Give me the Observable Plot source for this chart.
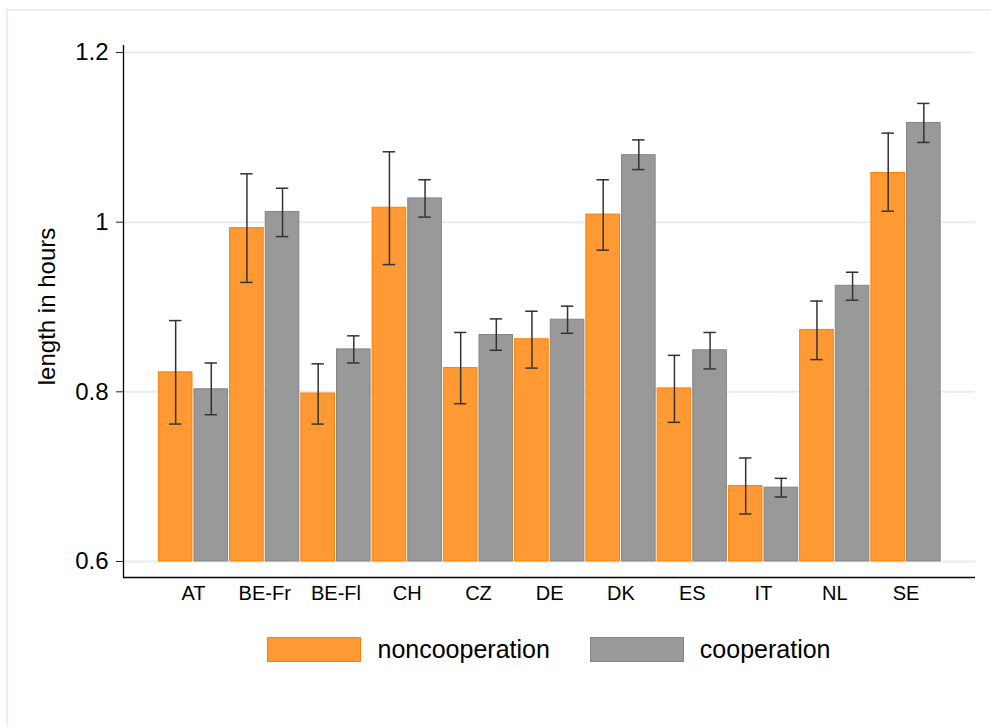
<!DOCTYPE html>
<html>
<head>
<meta charset="utf-8">
<script src="https://cdn.jsdelivr.net/npm/d3@7"></script>
<script src="https://cdn.jsdelivr.net/npm/@observablehq/plot@0.6"></script>
<style>
  html, body { margin: 0; padding: 0; background: #fff; }
  body { width: 991px; height: 727px; position: relative; overflow: hidden; font-family: "Liberation Sans", Arial, sans-serif; }
  #outer { position: absolute; left: 6px; top: 9px; width: 1100px; height: 900px; border-left: 2px solid #e9f0f2; border-top: 2px solid #e9f0f2; box-sizing: border-box; }
  #chart { position: absolute; left: 0; top: 0; }
  #legend { position: absolute; left: 123px; top: 637px; width: 852px; display: flex; justify-content: center; align-items: center; }
  .item { display: flex; align-items: center; }
  .item + .item { margin-left: 40px; }
  .sw { width: 92px; height: 23px; border: 1px solid; margin-right: 16px; }
  .lab { font-size: 25px; color: #000; line-height: 25px; }
</style>
</head>
<body>
<div id="outer"></div>
<div id="chart"></div>
<div id="legend"></div>
<script>
const countries = ["AT","BE-Fr","BE-Fl","CH","CZ","DE","DK","ES","IT","NL","SE"];
const seriesNames = ["noncooperation","cooperation"];
const noncoop   = [0.823, 0.993, 0.798, 1.017, 0.828, 0.862, 1.009, 0.804, 0.689, 0.873, 1.058];
const noncoopLo = [0.762, 0.929, 0.762, 0.950, 0.786, 0.828, 0.967, 0.764, 0.656, 0.838, 1.013];
const noncoopHi = [0.884, 1.057, 0.833, 1.083, 0.870, 0.895, 1.050, 0.843, 0.722, 0.907, 1.105];
const coop      = [0.803, 1.012, 0.850, 1.028, 0.867, 0.885, 1.079, 0.849, 0.687, 0.925, 1.117];
const coopLo    = [0.773, 0.983, 0.834, 1.006, 0.849, 0.869, 1.062, 0.827, 0.676, 0.908, 1.094];
const coopHi    = [0.834, 1.040, 0.866, 1.050, 0.886, 0.901, 1.097, 0.870, 0.698, 0.941, 1.140];
const yTicks = [0.6, 0.8, 1, 1.2];
const yBase = 0.6;
const yLabel = "length in hours";

const fills = {noncooperation: "#ff9933", cooperation: "#999999"};
const strokes = {noncooperation: "#ff8000", cooperation: "#858585"};
const offset = {noncooperation: -0.5, cooperation: 0};
const capHalf = 0.087;

const rows = countries.flatMap((c, i) => [
  {i, c, s: "noncooperation", v: noncoop[i], lo: noncoopLo[i], hi: noncoopHi[i]},
  {i, c, s: "cooperation", v: coop[i], lo: coopLo[i], hi: coopHi[i]}
]);
const xc = d => d.i + offset[d.s] + 0.25;

const xDomain = [-0.982, 10.975];
const yDomain = [0.5811, 1.2083];

const chart = Plot.plot({
  width: 991,
  height: 620,
  marginLeft: 123,
  marginRight: 16,
  marginTop: 45,
  marginBottom: 43,
  style: {background: "transparent", fontFamily: "'Liberation Sans', Arial, sans-serif", color: "#000"},
  x: {domain: xDomain},
  y: {domain: yDomain},
  marks: [
    Plot.ruleY(yTicks, {stroke: "#e4eef0", strokeWidth: 2}),
    Plot.rectY(rows, {
      x1: d => d.i + offset[d.s],
      x2: d => d.i + offset[d.s] + 0.5,
      y1: () => yBase,
      y2: "v",
      fill: d => fills[d.s],
      stroke: d => strokes[d.s],
      strokeWidth: 1,
      insetLeft: 1,
      insetRight: 1
    }),
    Plot.ruleX(rows, {x: xc, y1: "lo", y2: "hi", stroke: "#333", strokeWidth: 1.5}),
    Plot.ruleY(rows, {y: "hi", x1: d => xc(d) - capHalf, x2: d => xc(d) + capHalf, stroke: "#333", strokeWidth: 1.5}),
    Plot.ruleY(rows, {y: "lo", x1: d => xc(d) - capHalf, x2: d => xc(d) + capHalf, stroke: "#333", strokeWidth: 1.5}),
    Plot.ruleX([xDomain[0]], {stroke: "#000", strokeWidth: 1.3}),
    Plot.ruleY([yDomain[0]], {stroke: "#000", strokeWidth: 1.3}),
    Plot.axisY(yTicks, {tickSize: 7, tickPadding: 8, fontSize: 24, tickFormat: d => String(d), label: null, stroke: "#222"}),
    Plot.axisX(countries.map((c, i) => i), {tickSize: 0, tickPadding: 8, fontSize: 20, tickFormat: i => countries[i], label: null}),
    Plot.text([yLabel], {frameAnchor: "left", textAnchor: "middle", rotate: -90, dx: -76, dy: -5, fontSize: 24, fill: "#000"})
  ]
});
document.getElementById("chart").appendChild(chart);

const legend = document.getElementById("legend");
for (const s of seriesNames) {
  const item = document.createElement("div");
  item.className = "item";
  const sw = document.createElement("div");
  sw.className = "sw";
  sw.style.background = fills[s];
  sw.style.borderColor = strokes[s];
  const lab = document.createElement("span");
  lab.className = "lab";
  lab.textContent = s;
  item.appendChild(sw);
  item.appendChild(lab);
  legend.appendChild(item);
}
</script>
</body>
</html>
